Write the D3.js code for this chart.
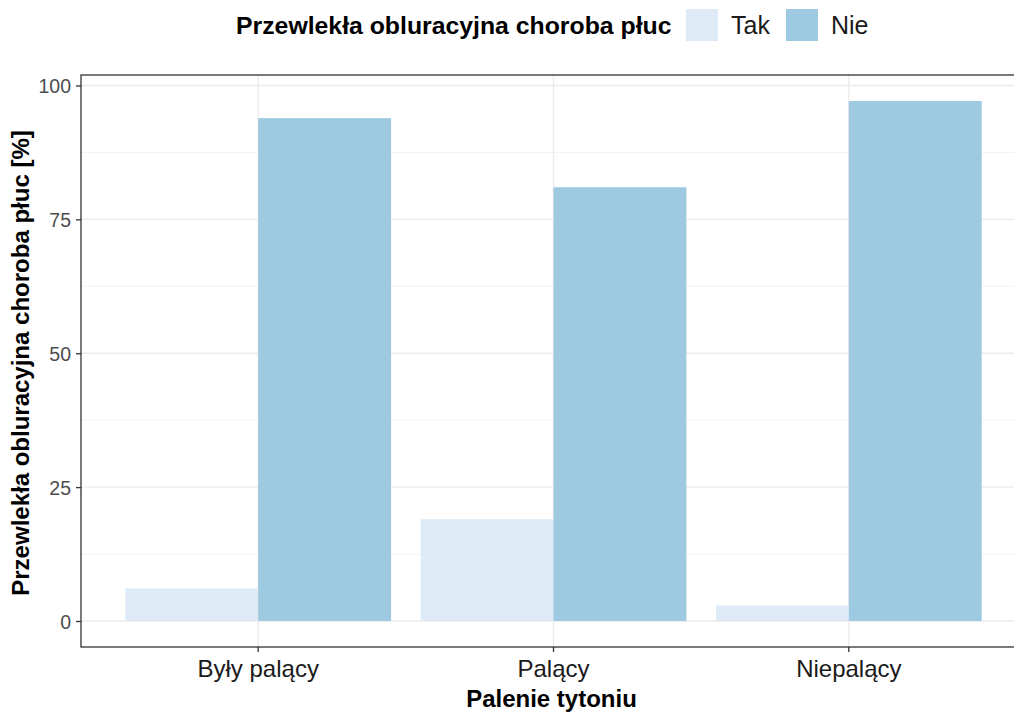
<!DOCTYPE html>
<html><head><meta charset="utf-8">
<script src="https://cdn.jsdelivr.net/npm/d3@7"></script>
<style>body{margin:0;background:#fff}text{font-family:"Liberation Sans",Arial,sans-serif}</style>
</head><body><svg id="c" width="1014" height="715"></svg>
<script>
const categories = ["Były palący", "Palący", "Niepalący"];
const groups = ["Tak", "Nie"];
const takValues = [6.1, 19.0, 2.9];
const nieValues = [93.9, 81.0, 97.1];
const yTicks = [0, 25, 50, 75, 100];
const yMinor = [12.5, 37.5, 62.5, 87.5];
const colors = {"Tak": "#DEEBF7", "Nie": "#9ECAE1"};

const svg = d3.select("#c");
const L = 81, R = 1026, T = 75, B = 647;
const x = d3.scaleBand().domain(categories).range([L, R]).paddingInner(0).paddingOuter(0.1);
const xSub = d3.scaleBand().domain(groups).range([0, x.bandwidth()*0.9]);
const maxV = d3.max(nieValues.concat(takValues));
const y = d3.scaleLinear().domain([-0.05*maxV, maxV*1.05]).range([B, T]);

const data = categories.map((c,i)=>({cat:c, Tak:takValues[i], Nie:nieValues[i]}));

// grid
const g = svg.append("g");
g.selectAll(".minor").data(yMinor).join("line").attr("x1",L).attr("x2",R)
 .attr("y1",d=>y(d)).attr("y2",d=>y(d)).attr("stroke","#F2F2F2").attr("stroke-width",1);
g.selectAll(".major").data(yTicks).join("line").attr("x1",L).attr("x2",R)
 .attr("y1",d=>y(d)).attr("y2",d=>y(d)).attr("stroke","#EBEBEB").attr("stroke-width",1.4);
g.selectAll(".vmajor").data(categories).join("line").attr("y1",T).attr("y2",B)
 .attr("x1",d=>x(d)+x.bandwidth()/2).attr("x2",d=>x(d)+x.bandwidth()/2).attr("stroke","#EBEBEB").attr("stroke-width",1.4);

// bars
const off = x.bandwidth()*0.05;
data.forEach(d=>{
  groups.forEach(k=>{
    svg.append("rect").attr("x",x(d.cat)+off+xSub(k)).attr("width",xSub.bandwidth())
      .attr("y",y(d[k])).attr("height",y(0)-y(d[k])).attr("fill",colors[k]);
  });
});

// border
svg.append("rect").attr("x",L).attr("y",T).attr("width",R-L).attr("height",B-T)
  .attr("fill","none").attr("stroke","#333333").attr("stroke-width",1.3);

// y axis
const ya = svg.append("g").attr("transform",`translate(${L},0)`)
 .call(d3.axisLeft(y).tickValues(yTicks).tickSize(5).tickPadding(5));
ya.select(".domain").remove();
ya.selectAll("line").attr("stroke","#333333").attr("stroke-width",1.3);
ya.selectAll("text").attr("fill","#4D4D4D").attr("dy","0.36em").style("font-size","19.5px").style("font-family","Liberation Sans, Arial, sans-serif");

// x axis
const xa = svg.append("g").attr("transform",`translate(0,${B})`)
 .call(d3.axisBottom(x).tickSize(5).tickPadding(7));
xa.select(".domain").remove();
xa.selectAll("line").attr("stroke","#333333").attr("stroke-width",1.3);
xa.selectAll("text").attr("fill","#1A1A1A").attr("dy",null).attr("y",30).style("font-size","24px").style("font-family","Liberation Sans, Arial, sans-serif");

// titles
svg.append("text").attr("x",(L+R)/2-2).attr("y",707).attr("text-anchor","middle")
  .style("font-size","24px").style("font-weight","bold").attr("fill","#000").text("Palenie tytoniu");
svg.append("text").attr("transform",`translate(29,${(T+B)/2+2}) rotate(-90)`).attr("text-anchor","middle")
  .style("font-size","24px").style("font-weight","bold").attr("fill","#000").text("Przewlekła obluracyjna choroba płuc [%]");

// legend
const lg = svg.append("g");
lg.append("text").attr("x",236).attr("y",34).style("font-size","24.8px").style("font-weight","bold").attr("fill","#000")
  .text("Przewlekła obluracyjna choroba płuc");
const legX = [686, 786];
groups.forEach((k,i)=>{
  lg.append("rect").attr("x",legX[i]).attr("y",9).attr("width",32).attr("height",32).attr("fill",colors[k]);
  lg.append("text").attr("x",legX[i]+45).attr("y",34).style("font-size","25px").attr("fill","#1A1A1A").text(k);
});
</script></body></html>
